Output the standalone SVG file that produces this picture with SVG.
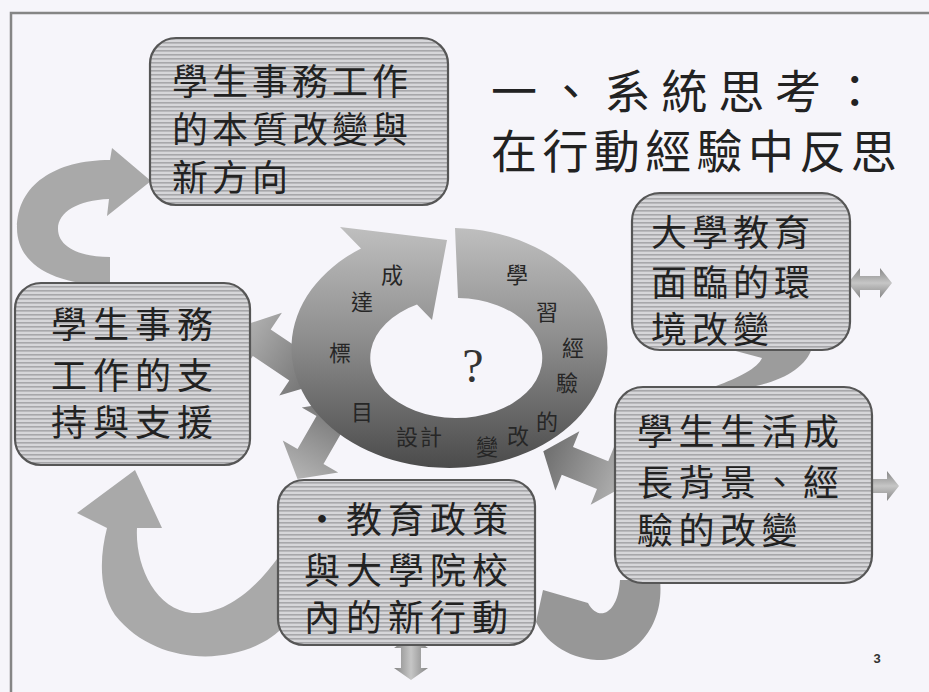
<svg xmlns="http://www.w3.org/2000/svg" width="929" height="692" viewBox="0 0 929 692">
  <defs>
    <pattern id="stripes" patternUnits="userSpaceOnUse" width="8" height="4">
      <rect width="8" height="4" fill="#d6d6d9"/>
      <rect y="2" width="8" height="1.6" fill="#a7a7aa"/>
    </pattern>
    <linearGradient id="ringGrad" x1="0" y1="0" x2="0" y2="1">
      <stop offset="0" stop-color="#bfbfbf"/>
      <stop offset="0.45" stop-color="#8f8f8f"/>
      <stop offset="1" stop-color="#4b4b4b"/>
    </linearGradient>
    <linearGradient id="alongA" x1="0" y1="0" x2="1" y2="0">
      <stop offset="0" stop-color="#b4b4b4"/>
      <stop offset="1" stop-color="#6e6e6e"/>
    </linearGradient>
    <linearGradient id="alongB" x1="0" y1="0" x2="1" y2="0">
      <stop offset="0" stop-color="#6e6e6e"/>
      <stop offset="1" stop-color="#b4b4b4"/>
    </linearGradient>
    <linearGradient id="across" x1="0" y1="0" x2="0" y2="1">
      <stop offset="0" stop-color="#858585"/>
      <stop offset="0.5" stop-color="#c6c6c6"/>
      <stop offset="1" stop-color="#858585"/>
    </linearGradient>
    <style>
      .box { fill: url(#stripes); stroke: #565656; stroke-width: 2.2; }
      .bt { font-family: "Noto Sans CJK TC", "Noto Sans CJK SC", sans-serif; font-size: 36px; fill: #222; }
      .title { font-family: "Noto Sans CJK TC", "Noto Sans CJK SC", sans-serif; font-size: 46px; fill: #222; }
      .rt { font-family: "Noto Sans CJK TC", "Noto Sans CJK SC", sans-serif; font-size: 22px; fill: #262626; text-anchor: middle; }
      .curve { fill: #a9a9a9; }
    </style>
  </defs>

  <!-- background and slide frame -->
  <rect width="929" height="692" fill="#f6f5fa"/>
  <path d="M 11 692 V 13 H 929" fill="none" stroke="#858585" stroke-width="2.5"/>

  <!-- connectors -->
  <g id="connectors">
    <!-- curved arrow: support box -> nature box -->
    <path class="curve" d="M 110 160 L 112 148 L 151 181 L 107 216 L 109 199 C 78 200, 58 212, 58 229 C 58 246, 78 257, 110 257 L 110 285 C 50 285, 17 262, 17 228 C 17 185, 55 160, 110 160 Z"/>
    <!-- curved arrow: policy box -> support box -->
    <path class="curve" d="M 107 528 L 77 513 L 135 470 L 162 528 L 137 528 C 135 565, 155 610, 192 613 C 225 615, 255 590, 280 555 L 285 625 C 250 665, 160 672, 115 615 C 98 590, 100 555, 107 528 Z"/>
    <!-- curved arrow: student life box -> policy box -->
    <path fill="#979797" d="M 543 590 L 588 603 C 598 622, 618 615, 620 580 L 660 580 C 665 630, 630 662, 597 660 C 565 658, 545 640, 536 622 Z"/>
    <!-- swoosh between right boxes -->
    <path fill="#9c9c9c" d="M 732 350 L 812 348 C 806 368, 780 383, 745 388 L 716 386 C 738 378, 758 368, 762 358 Z"/>
    <!-- block arrows to the cycle -->
    <polygon fill="url(#alongA)" points="-50,0 -22,-36 -22,-16 22,-16 22,-34 50,0 22,34 22,16 -22,16 -22,36" transform="translate(280,355) rotate(34)"/>
    <polygon fill="url(#alongB)" points="-45,0 -19,-32 -19,-15 19,-15 19,-32 45,0 19,32 19,15 -19,15 -19,32" transform="translate(320,440) rotate(120)"/>
    <polygon fill="url(#alongB)" points="-45,0 -19,-32 -19,-15 19,-15 19,-32 45,0 19,32 19,15 -19,15 -19,32" transform="translate(585,468) rotate(22)"/>
    <!-- small outgoing arrows -->
    <polygon fill="url(#across)" points="-22,0 -10,-15 -10,-7 10,-7 10,-15 22,0 10,15 10,7 -10,7 -10,15" transform="translate(870,283)"/>
    <polygon fill="url(#across)" points="-22,0 -10,-15 -10,-7 10,-7 10,-15 22,0 10,15 10,7 -10,7 -10,15" transform="translate(877,486)"/>
    <polygon fill="url(#across)" points="-22,0 -10,-17 -10,-10 10,-10 10,-17 22,0 10,17 10,10 -10,10 -10,17" transform="translate(411,658) rotate(90)"/>
  </g>

  <!-- central cycle -->
  <g id="cycle">
    <path fill="url(#ringGrad)" d="M 455 228 A 158 120 0 1 1 361 248.5 L 340 227 L 447 240 L 432 320 L 417 304.6 A 86 60 0 1 0 458 298 Z"/>
    <text class="rt" x="392" y="283">成</text>
    <text class="rt" x="362" y="310">達</text>
    <text class="rt" x="340" y="361">標</text>
    <text class="rt" x="362" y="420">目</text>
    <text class="rt" x="420" y="445" letter-spacing="2">設計</text>
    <text class="rt" x="517" y="283">學</text>
    <text class="rt" x="547" y="320">習</text>
    <text class="rt" x="573" y="356">經</text>
    <text class="rt" x="567" y="391">驗</text>
    <text class="rt" x="547" y="430">的</text>
    <text class="rt" x="518" y="444">改</text>
    <text class="rt" x="487" y="455">變</text>
    <text x="473" y="382" font-family="Liberation Serif, serif" font-size="48" fill="#333" text-anchor="middle">?</text>
  </g>

  <!-- title -->
  <g id="title">
    <text class="title" x="491" y="108" letter-spacing="10.8">一、系統思考：</text>
    <text class="title" x="491" y="168" letter-spacing="5.4">在行動經驗中反思</text>
  </g>

  <!-- nodes -->
  <g id="node-nature">
    <rect class="box" x="150" y="38" width="298" height="167" rx="26"/>
    <text class="bt" x="172" y="95" letter-spacing="4">學生事務工作</text>
    <text class="bt" x="172" y="143" letter-spacing="4">的本質改變與</text>
    <text class="bt" x="172" y="191" letter-spacing="4">新方向</text>
  </g>

  <g id="node-support">
    <rect class="box" x="15" y="283" width="235" height="182" rx="26"/>
    <text class="bt" x="51" y="338" letter-spacing="6">學生事務</text>
    <text class="bt" x="51" y="389" letter-spacing="6">工作的支</text>
    <text class="bt" x="51" y="436" letter-spacing="6">持與支援</text>
  </g>

  <g id="node-environment">
    <rect class="box" x="632" y="193" width="218" height="157" rx="28"/>
    <text class="bt" x="651" y="246" letter-spacing="5">大學教育</text>
    <text class="bt" x="651" y="296" letter-spacing="5">面臨的環</text>
    <text class="bt" x="651" y="343" letter-spacing="5">境改變</text>
  </g>

  <g id="node-student-life">
    <rect class="box" x="615" y="387" width="257" height="196" rx="28"/>
    <text class="bt" x="637" y="445" letter-spacing="5.5">學生生活成</text>
    <text class="bt" x="637" y="496" letter-spacing="5.5">長背景、經</text>
    <text class="bt" x="637" y="544" letter-spacing="5.5">驗的改變</text>
  </g>

  <g id="node-policy">
    <rect class="box" x="278" y="480" width="257" height="165" rx="26"/>
    <text class="bt" x="304" y="533" letter-spacing="6">・教育政策</text>
    <text class="bt" x="304" y="584" letter-spacing="6">與大學院校</text>
    <text class="bt" x="304" y="631" letter-spacing="6">內的新行動</text>
  </g>

  <text x="877" y="663" font-family="Liberation Sans, sans-serif" font-size="13" font-weight="bold" fill="#333" text-anchor="middle">3</text>
</svg>
